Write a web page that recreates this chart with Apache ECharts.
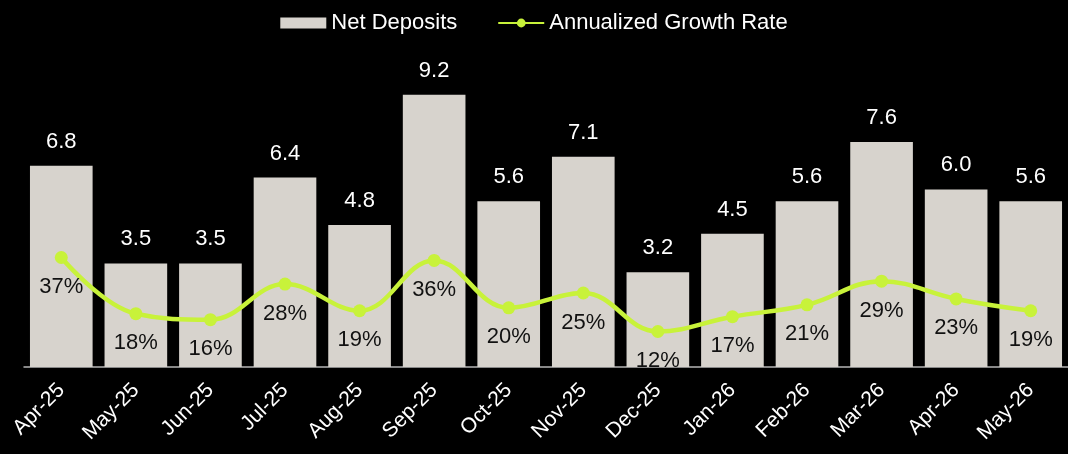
<!DOCTYPE html>
<html><head><meta charset="utf-8">
<script src="https://cdn.jsdelivr.net/npm/echarts@6/dist/echarts.min.js"></script>
<style>html,body{margin:0;padding:0;background:#000;}#c{width:1068px;height:454px;}</style>
</head><body><div id="c"></div>
<script>
const categories = ['Apr-25','May-25','Jun-25','Jul-25','Aug-25','Sep-25','Oct-25','Nov-25','Dec-25','Jan-26','Feb-26','Mar-26','Apr-26','May-26'];
const netDeposits = [6.8,3.5,3.5,6.4,4.8,9.2,5.6,7.1,3.2,4.5,5.6,7.6,6.0,5.6];
const growthRate = [37,18,16,28,19,36,20,25,12,17,21,29,23,19];

const chart = echarts.init(document.getElementById('c'));
const font = 'Liberation Sans, Arial, Helvetica, sans-serif';
chart.setOption({
  backgroundColor: '#000',
  animation: false,
  textStyle: {fontFamily: font},
  legend: {
    top: 7, left: 'center', itemGap: 40, itemWidth: 46, itemHeight: 11,
    textStyle: {color: '#fff', fontSize: 22, fontFamily: font},
    data: [{name: 'Net Deposits', icon: 'rect'}, {name: 'Annualized Growth Rate'}]
  },
  grid: {left: 24, right: -5, top: 71, bottom: 87, containLabel: false},
  xAxis: {
    type: 'category', data: categories,
    axisLine: {show: true, lineStyle: {color: '#b5b5b5', width: 1.5}},
    axisTick: {show: false},
    axisLabel: {color: '#fff', fontSize: 21, rotate: 45, margin: 20, interval: 0, fontFamily: font}
  },
  yAxis: [
    {type: 'value', min: 0, max: 10, show: false, splitLine: {show: false}},
    {type: 'value', min: 0, max: 100, show: false, splitLine: {show: false}}
  ],
  series: [
    {
      name: 'Net Deposits', type: 'bar', data: netDeposits, barWidth: '84%',
      itemStyle: {color: '#d7d3cd'},
      label: {show: true, position: 'top', distance: 13, color: '#fff', fontSize: 22, fontFamily: font,
        formatter: p => p.value.toFixed(1)}
    },
    {
      name: 'Annualized Growth Rate', type: 'line', yAxisIndex: 1, data: growthRate, smooth: 0.4,
      symbol: 'circle', symbolSize: 13,
      lineStyle: {color: '#c8f23a', width: 4.5},
      itemStyle: {color: '#c8f23a'},
      label: {show: true, position: 'bottom', distance: 12, color: '#111', fontSize: 22, fontFamily: font,
        formatter: p => p.value + '%'}
    }
  ]
});
</script></body></html>
